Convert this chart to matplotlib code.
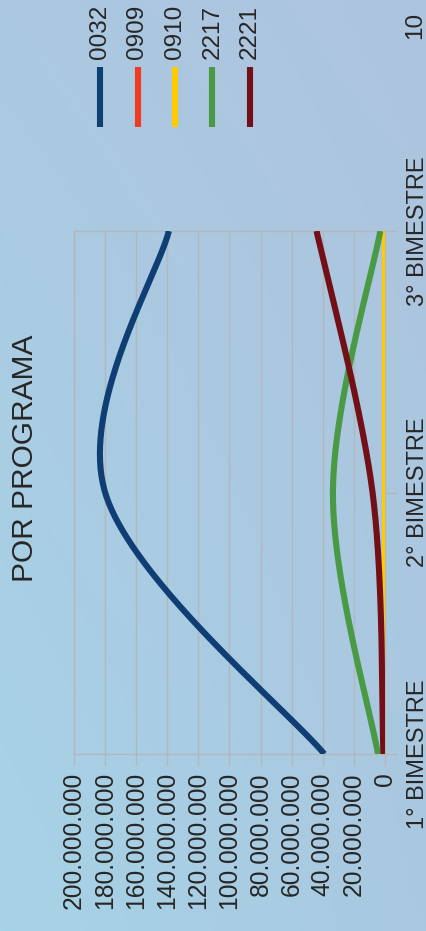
import numpy as np
import matplotlib
matplotlib.use('Agg')
import matplotlib.pyplot as plt
from matplotlib.lines import Line2D
from matplotlib.colors import to_rgb

plt.rcParams['font.family'] = ['Liberation Sans', 'DejaVu Sans']

# ---- data ----
categories = ['1° BIMESTRE', '2° BIMESTRE', '3° BIMESTRE']
series_names = ['0032', '0909', '0910', '2217', '2221']
s0032 = [39e6, 180e6, 139e6]
s0909 = [0, 0, 0]
s0910 = [0, 0, 0]
s2217 = [4.5e6, 33.5e6, 3e6]
s2221 = [1e6, 8e6, 44e6]
series_values = [s0032, s0909, s0910, s2217, s2221]
colors = ['#0f3e75', '#f03a22', '#ffcc00', '#4a9a45', '#731017']
value_ticks = [0, 20e6, 40e6, 60e6, 80e6, 100e6, 120e6, 140e6, 160e6, 180e6, 200e6]
title = 'POR PROGRAMA'
page_number = '10'

TXT = '#262626'
GRID = '#b3b6ba'
W, H = 427, 931


def smooth(xs, ys, n=80):
    """Excel-like smoothed line (Catmull-Rom Bezier)."""
    P = np.column_stack([xs, ys]).astype(float)
    out = []
    for i in range(len(P) - 1):
        p0 = P[i - 1] if i > 0 else P[i]
        p1, p2 = P[i], P[i + 1]
        p3 = P[i + 2] if i + 2 < len(P) else P[i + 1]
        c1 = p1 + (p2 - p0) / 6
        c2 = p2 - (p3 - p1) / 6
        t = np.linspace(0, 1, n)[:, None]
        seg = (1 - t) ** 3 * p1 + 3 * (1 - t) ** 2 * t * c1 + 3 * (1 - t) * t ** 2 * c2 + t ** 3 * p2
        out.append(seg if i == 0 else seg[1:])
    return np.vstack(out)


fig = plt.figure(figsize=(W / 100, H / 100), dpi=100)

# background gradient
bg = fig.add_axes([0, 0, 1, 1], zorder=-10)
ny, nx = 200, 100
yy, xx = np.mgrid[0:1:ny * 1j, 0:1:nx * 1j]  # yy=0 bottom
c_bl = np.array(to_rgb('#a7d3e6'))
c_br = np.array(to_rgb('#a9c9e1'))
c_tl = np.array(to_rgb('#abc9e1'))
c_tr = np.array(to_rgb('#aec4de'))
img = ((1 - xx)[..., None] * (1 - yy)[..., None] * c_bl + xx[..., None] * (1 - yy)[..., None] * c_br
       + (1 - xx)[..., None] * yy[..., None] * c_tl + xx[..., None] * yy[..., None] * c_tr)
bg.imshow(img, origin='lower', aspect='auto', extent=[0, 1, 0, 1])
bg.axis('off')

# main axes (rotated chart: value horizontal, categories vertical)
x0, x1 = 74, 385
y_top, y_bot = 231, 754
ax = fig.add_axes([x0 / W, (H - y_bot) / H, (x1 - x0) / W, (y_bot - y_top) / H], zorder=1)
ax.set_facecolor('none')

cat_pos = np.arange(len(categories))
for vals, col in zip(series_values, colors):
    curve = smooth(cat_pos, vals)
    ax.plot(curve[:, 1], curve[:, 0], color=col, lw=4.4, solid_capstyle='butt', zorder=3)

ax.set_xlim(200e6, 0)
ax.set_ylim(0, len(categories) - 1)
ax.set_xticks(value_ticks)
ax.set_xticklabels([f"{int(v):,}".replace(',', '.') for v in value_ticks], rotation=90)
ax.tick_params(axis='x', length=8, width=1, color=GRID, direction='out', pad=5,
               labelsize=17.7, labelcolor=TXT)
ax.grid(axis='x', color=GRID, lw=1, zorder=0)
ax.set_axisbelow(True)

ax.yaxis.tick_right()
ax.set_yticks(cat_pos)
ax.set_yticklabels(categories, rotation=90, va='center')
ax.tick_params(axis='y', length=8.6, width=1, color=GRID, direction='out', pad=7,
               labelsize=17, labelcolor=TXT)
for sp in ax.spines.values():
    sp.set_color(GRID)
    sp.set_linewidth(1)

# title
fig.text(25 / W, 1 - 458 / H, title, rotation=90, ha='center', va='center',
         fontsize=21.5, color=TXT)

# legend
for i, (name, col) in enumerate(zip(series_names, colors)):
    xc = (100 + 37.5 * i) / W
    fig.text(xc, 1 - 59 / H, name, rotation=90, ha='center', va='bottom',
             fontsize=17.5, color=TXT)
    fig.add_artist(Line2D([xc, xc], [1 - 67 / H, 1 - 127 / H], color=col, lw=4.4,
                          transform=fig.transFigure, solid_capstyle='butt'))

# page number
fig.text(415 / W, 1 - 25 / H, page_number, rotation=90, ha='center', va='center',
         fontsize=17.5, color=TXT)

fig.savefig('out.png', dpi=100)
